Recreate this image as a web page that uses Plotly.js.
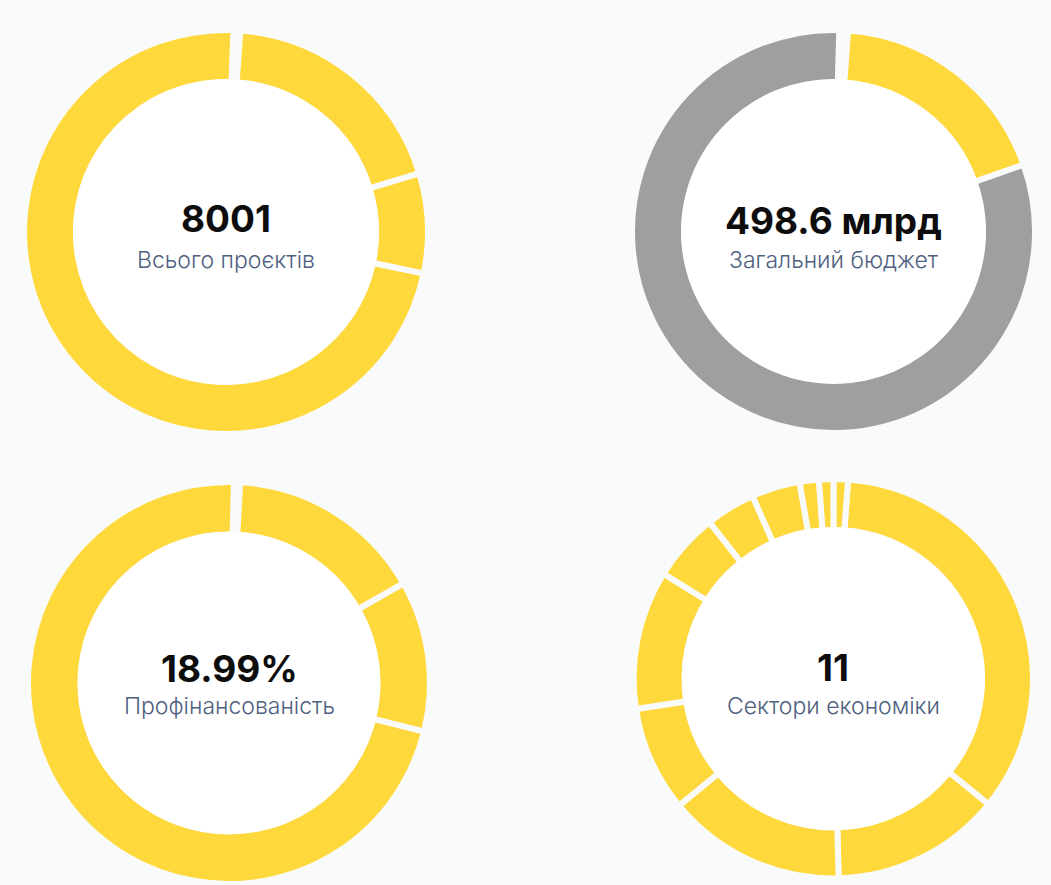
<!DOCTYPE html>
<html>
<head>
<meta charset="utf-8">
<script src="https://cdn.plot.ly/plotly-3.0.1.min.js"></script>
<style>
  html, body { margin: 0; padding: 0; background: #f9fafb; }
  #chart { width: 1051px; height: 885px; }
</style>
</head>
<body>
<div id="chart"></div>
<script>
// ---------------- DATA ----------------
const projectsLabels = ['Не визначено', 'Категорія 1', 'Категорія 2', 'Категорія 3'];
const projectsValues = [44, 1534, 640, 5783];
const projectsTotal = '8001';
const projectsCaption = 'Всього проєктів';

const budgetLabels = ['Не визначено', 'Профінансовано', 'Залишок'];
const budgetValues = [3.5, 92.7, 405.9];
const budgetTotal = '498.6 млрд';
const budgetCaption = 'Загальний бюджет';

const fundingLabels = ['Не визначено', 'Частка 1', 'Частка 2', 'Частка 3'];
const fundingValues = [0.5, 15.86, 12.14, 71.5];
const fundingTotal = '18.99%';
const fundingCaption = 'Профінансованість';

const sectorLabels = ['Сектор 1', 'Сектор 2', 'Сектор 3', 'Сектор 4', 'Сектор 5', 'Сектор 6',
                      'Сектор 7', 'Сектор 8', 'Сектор 9', 'Сектор 10', 'Сектор 11'];
const sectorValues = [34.65, 13.75, 14.47, 8.53, 11.25, 5.53, 4.03, 3.92, 1.56, 1.18, 1.15];
const sectorTotal = '11';
const sectorCaption = 'Сектори економіки';

// ---------------- STYLE / LAYOUT ----------------
const W = 1051, H = 885;
const BG = '#f9fafb';
const YELLOW = '#FFD83B';
const GRAY = '#9E9FA0';
const GAP = 6;

const panels = [
  { labels: projectsLabels, values: projectsValues, total: projectsTotal, caption: projectsCaption,
    colors: [BG, YELLOW, YELLOW, YELLOW], cx: 226, cy: 232, r: 202, hole: 0.743, rot: 2.1, ny: 218, sy: 260 },
  { labels: budgetLabels, values: budgetValues, total: budgetTotal, caption: budgetCaption,
    colors: [BG, YELLOW, GRAY], cx: 833.5, cy: 231.5, r: 201.5, hole: 0.742, rot: 1.65, ny: 220, sy: 260 },
  { labels: fundingLabels, values: fundingValues, total: fundingTotal, caption: fundingCaption,
    colors: [BG, YELLOW, YELLOW, YELLOW], cx: 229, cy: 683, r: 201, hole: 0.739, rot: 1.4, ny: 668, sy: 706 },
  { labels: sectorLabels, values: sectorValues, total: sectorTotal, caption: sectorCaption,
    colors: sectorValues.map(() => YELLOW), cx: 833.3, cy: 678.7, r: 199.7, hole: 0.745, rot: 4.26, ny: 667.5, sy: 706 }
];

const traces = [];
const annotations = [];
const shapes = [];

panels.forEach(p => {
  traces.push({
    type: 'pie',
    labels: p.labels,
    values: p.values,
    hole: p.hole,
    sort: false,
    direction: 'clockwise',
    rotation: p.rot,
    textinfo: 'none',
    hoverinfo: 'label+value',
    showlegend: false,
    marker: { colors: p.colors, line: { color: BG, width: GAP } },
    domain: {
      x: [(p.cx - p.r) / W, (p.cx + p.r) / W],
      y: [(H - p.cy - p.r) / H, (H - p.cy + p.r) / H]
    }
  });
  // white inner disc reaching the visible inner edge of the ring
  const rh = p.r * p.hole + GAP / 2 - 0.3;
  shapes.push({
    type: 'circle', xref: 'paper', yref: 'paper', layer: 'above',
    x0: (p.cx - rh) / W, x1: (p.cx + rh) / W,
    y0: (H - p.cy - rh) / H, y1: (H - p.cy + rh) / H,
    fillcolor: '#ffffff', line: { width: 0 }
  });
  annotations.push({
    xref: 'paper', yref: 'paper', x: p.cx / W, y: 1 - p.ny / H,
    xanchor: 'center', yanchor: 'middle', showarrow: false,
    text: p.total,
    font: { family: 'Inter, "Noto Sans", sans-serif', size: 37, weight: 700, color: '#0d0d0d' }
  });
  annotations.push({
    xref: 'paper', yref: 'paper', x: p.cx / W, y: 1 - p.sy / H,
    xanchor: 'center', yanchor: 'middle', showarrow: false,
    text: p.caption,
    font: { family: 'Inter, "Noto Sans", sans-serif', size: 23, weight: 300, color: '#4E5F80' }
  });
});

const layout = {
  width: W, height: H,
  margin: { l: 0, r: 0, t: 0, b: 0 },
  paper_bgcolor: BG,
  plot_bgcolor: BG,
  showlegend: false,
  annotations: annotations,
  shapes: shapes
};

Plotly.newPlot('chart', traces, layout, { displayModeBar: false, staticPlot: true });
</script>
</body>
</html>
